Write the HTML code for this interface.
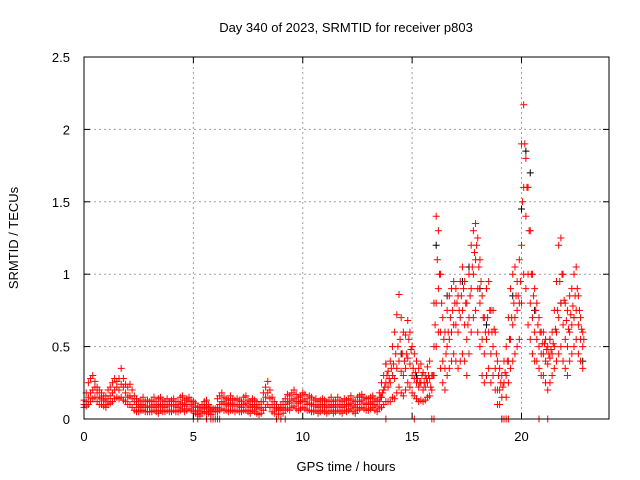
<!DOCTYPE html>
<html><head><meta charset="utf-8"><style>
body{margin:0;background:#fff}
svg{display:block;font-family:"Liberation Sans",sans-serif;font-size:13px}
</style></head><body>
<svg id="c" width="640" height="480">
<rect width="640" height="480" fill="#fff"/>
<g id="grid"></g>
<g id="marks"></g>
<rect x="84" y="57" width="525" height="362" fill="none" stroke="#000" stroke-width="1"/>
<g id="ticks"></g>
<text x="346" y="32" text-anchor="middle">Day 340 of 2023, SRMTID for receiver p803</text>
<text x="346" y="471" text-anchor="middle">GPS time / hours</text>
<text transform="translate(18,238) rotate(-90)" text-anchor="middle">SRMTID / TECUs</text>
</svg>
<script>
const xTicks=[0,5,10,15,20];
const yTicks=[0,0.5,1,1.5,2,2.5];
const yTickLabels=["0","0.5","1","1.5","2","2.5"];
const startHour=0, stepHour=0.1;
const seriesA=[.10,.12,.15,.18,.20,.22,.18,.15,.14,.13,.12,.14,.16,.18,.20,.22,.20,.24,.22,.18,.15,.16,.14,.12,.10,.08,.09,.10,.08,.09,.08,.09,.10,.08,.09,.10,.09,.08,.10,.09,.09,.10,.09,.08,.10,.11,.09,.10,.12,.10,.09,.08,.06,.05,.07,.08,.09,.07,.06,.05,.05,.08,.10,.12,.11,.10,.09,.11,.10,.09,.10,.09,.08,.10,.11,.09,.08,.10,.09,.08,.07,.08,.12,.15,.18,.14,.10,.08,.07,.06,.07,.08,.10,.12,.11,.13,.14,.12,.11,.12,.13,.12,.10,.11,.10,.09,.10,.08,.09,.10,.09,.08,.09,.10,.08,.09,.10,.09,.08,.10,.09,.10,.11,.09,.08,.10,.12,.13,.11,.10,.10,.11,.12,.10,.09,.12,.15,.20,.25,.22,.25,.30,.28,.35,.40,.33,.30,.35,.42,.38,.30,.28,.25,.22,.25,.20,.22,.25,.28,.20,.50,.80,.90,.60,.40,.35,.50,.55,.60,.65,.65,.60,.70,.75,.65,.55,.70,.90,1.00,1.10,.90,.80,.55,.45,.55,.60,.45,.50,.35,.20,.20,.15,.25,.30,.40,.55,.65,.70,.75,.80,1.20,1.60,1.40,1.00,.80,.70,.60,.55,.50,.45,.45,.40,.38,.42,.45,.50,.60,.70,.80,.65,.55,.50,.60,.65,.70,.75,.65,.55,.50];
const seriesB=[.13,.18,.25,.28,.30,.26,.22,.20,.18,.16,.16,.20,.22,.25,.28,.26,.28,.35,.28,.24,.22,.24,.20,.16,.14,.12,.13,.15,.12,.13,.12,.13,.15,.12,.14,.15,.13,.12,.14,.12,.13,.14,.12,.12,.15,.16,.13,.14,.15,.13,.12,.11,.09,.08,.10,.12,.13,.10,.08,.07,.07,.14,.16,.18,.15,.14,.13,.16,.14,.13,.14,.13,.12,.15,.16,.13,.12,.14,.13,.12,.10,.12,.18,.22,.26,.20,.15,.12,.10,.08,.10,.12,.14,.17,.16,.18,.20,.17,.15,.16,.18,.17,.14,.16,.15,.13,.14,.12,.13,.14,.13,.12,.13,.15,.12,.13,.15,.13,.12,.14,.13,.14,.16,.13,.12,.15,.16,.17,.15,.14,.14,.15,.16,.14,.13,.18,.25,.30,.38,.33,.40,.50,.60,.72,.86,.70,.60,.58,.68,.60,.50,.45,.40,.35,.38,.32,.30,.36,.40,.30,.80,1.40,1.30,1.00,.70,.60,.75,.85,.90,.95,.90,.85,.95,1.05,.95,.80,1.00,1.20,1.30,1.35,1.25,1.10,.85,.70,.90,.95,.75,.75,.60,.40,.35,.30,.40,.50,.70,.90,1.00,1.05,.95,1.10,1.90,2.17,1.80,1.60,1.30,1.00,.90,.80,.70,.60,.60,.55,.50,.55,.60,.75,.95,1.20,1.25,1.00,.80,.75,.85,.90,1.00,1.05,.85,.70,.60];
const seriesC=[.08,.09,.10,.12,.14,.15,.12,.10,.10,.09,.08,.10,.11,.12,.14,.15,.14,.15,.13,.12,.10,.10,.08,.06,.05,.05,.06,.06,.05,.05,.05,.05,.06,.05,.04,.06,.05,.05,.06,.05,.05,.06,.05,.05,.06,.07,.05,.06,.07,.06,.05,.04,.03,.02,.04,.05,.05,.04,.03,.00,.00,.05,.06,.07,.06,.06,.05,.06,.06,.05,.06,.05,.05,.06,.06,.05,.04,.06,.05,.04,.03,.04,.06,.08,.10,.08,.05,.04,.00,.03,.00,.04,.06,.07,.06,.08,.09,.07,.06,.07,.08,.07,.06,.06,.05,.05,.06,.04,.05,.06,.05,.04,.05,.06,.04,.05,.06,.05,.04,.06,.05,.06,.07,.05,.04,.06,.07,.08,.07,.06,.06,.07,.08,.06,.05,.07,.08,.10,.12,.12,.12,.15,.14,.18,.22,.18,.16,.20,.25,.22,.18,.16,.14,.12,.13,.12,.13,.15,.16,.00,.30,.50,.60,.35,.25,.20,.30,.35,.40,.45,.40,.35,.40,.45,.40,.30,.45,.60,.70,.75,.60,.50,.30,.25,.30,.35,.25,.30,.20,.10,.10,.00,.00,.15,.25,.35,.40,.45,.50,.55,.80,1.00,.90,.65,.55,.45,.40,.40,.35,.30,.30,.25,.20,.25,.30,.35,.40,.45,.50,.40,.35,.30,.40,.45,.50,.55,.45,.40,.35];
const startHourD=13.55;
const seriesD=[.15,.18,.22,.30,.28,.35,.38,.45,.50,.55,.45,.40,.45,.55,.48,.35,.32,.28,.25,.30,.25,.28,.30,.22,.30,.65,1.10,1.00,.80,.55,.45,.60,.70,.75,.80,.80,.75,.85,.90,.80,.65,.85,1.05,1.15,1.20,1.05,.95,.70,.60,.70,.75,.60,.62,.45,.30,.25,.22,.32,.40,.55,.70,.80,.85,.85,.95,1.50,1.90,1.60,1.30,1.00,.85,.75,.65,.60,.52,.52,.48,.45,.48,.52,.62,.75,.95,1.00,.82,.68,.62,.72,.78,.85,.90,.75,.62,.55];
const zeroHours=[5.0,5.2,5.6,5.8,6.1,6.2,8.8,9.2,13.8,15.1,16.0,19.1,19.2,19.3,19.4,20.8,21.2];
const blackHours=[13.8,14.5,15.2,16.1,16.6,17.3,17.6,18.1,18.4,19.6,20.0,20.2,20.4,20.6,21.3,21.8,22.4,22.8];
const blackValues=[.38,.45,.30,1.2,.85,.95,1.05,.90,.65,.85,1.45,1.85,1.70,.75,.55,.80,.70,.40];
const NS='http://www.w3.org/2000/svg';
const X0=84,X1=609,Y0=419,Y1=57,XMAX=24,YMAX=2.5;
const xs=h=>X0+(X1-X0)*h/XMAX;
const ys=v=>Y0-(Y0-Y1)*v/YMAX;
const grid=document.getElementById('grid'),ticks=document.getElementById('ticks'),marks=document.getElementById('marks');
function mk(tag,attrs,parent){const e=document.createElementNS(NS,tag);for(const k in attrs)e.setAttribute(k,attrs[k]);parent.appendChild(e);return e;}
xTicks.forEach(t=>{const x=xs(t);
 if(t>0){const g=mk('line',{x1:x,x2:x,y1:Y0,y2:Y1,stroke:'#a0a0a0','stroke-dasharray':'2,3'},grid);
 
 }
 const a=mk('line',{x1:x,x2:x,y1:Y0,y2:Y0-6,stroke:'#000'},ticks);
 
 
 const b=mk('line',{x1:x,x2:x,y1:Y1,y2:Y1+6,stroke:'#000'},ticks);
 
 
 const l=mk('text',{x:x,y:Y0+22,'text-anchor':'middle'},ticks);l.textContent=t;
 
 
});
yTicks.forEach((t,i)=>{const y=ys(t);
 if(t>0&&t<YMAX){const g=mk('line',{x1:X0,x2:X1,y1:y,y2:y,stroke:'#a0a0a0','stroke-dasharray':'2,3'},grid);
 
 }
 const a=mk('line',{x1:X0,x2:X0+6,y1:y,y2:y,stroke:'#000'},ticks);
 
 
 const b=mk('line',{x1:X1,x2:X1-6,y1:y,y2:y,stroke:'#000'},ticks);
 
 
 const l=mk('text',{x:X0-14,y:y+5,'text-anchor':'end'},ticks);l.textContent=yTickLabels[i];
 
 
});
function plus(h,v,col,name){const x=xs(h),y=ys(v);
 const p=mk('path',{d:`M${x-3.5},${y}H${x+3.5}M${x},${y-3.5}V${y+3.5}`,stroke:col,'stroke-width':1,fill:'none'},marks);
 
 }
blackHours.forEach((h,i)=>plus(h,blackValues[i],'#000','black-point'));
[seriesA,seriesB,seriesC].forEach(s=>s.forEach((v,i)=>plus(startHour+i*stepHour,v,'#f00','red-point')));
seriesD.forEach((v,i)=>plus(startHourD+i*stepHour,v,'#f00','red-point'));
zeroHours.forEach(h=>plus(h,0,'#f00','zero-point'));
</script>
</body></html>
